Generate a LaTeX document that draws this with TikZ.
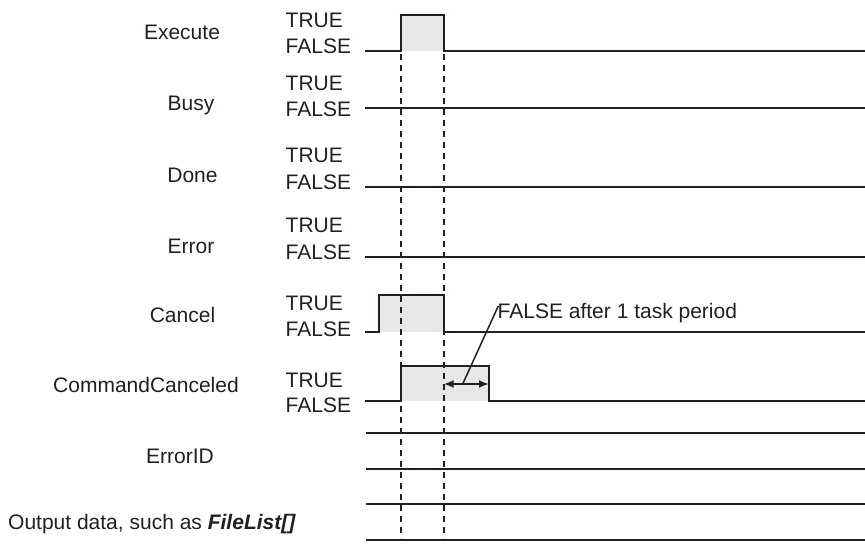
\documentclass[tikz,border=0pt]{standalone}
\usepackage{fontspec}
\setmainfont{Liberation Sans}
\usetikzlibrary{arrows.meta}
\definecolor{ink}{HTML}{231F20}
\definecolor{pulse}{HTML}{E6E7E8}
\begin{document}
\begin{tikzpicture}[x=1pt,y=-1pt,
  font=\fontsize{21}{24}\selectfont,
  sig/.style={draw=ink, line width=1.9pt},
  lbl/.style={anchor=base, inner sep=0pt, text=ink},
  lvl/.style={anchor=base west, inner sep=0pt, text=ink},
  guide/.style={draw=ink, line width=1.9pt, dash pattern=on 6pt off 5pt},
  tip/.style={Latex[length=10pt,width=8pt]}]
\useasboundingbox (0,0) rectangle (865,545);
% pulse fills
\fill[pulse] (400.7,14.7) rectangle (443.7,51);
\fill[pulse] (379,295) rectangle (443.7,331.7);
\fill[pulse] (400.7,365.7) rectangle (489,401);
% waveforms
\draw[sig] (365,51) -- (400.7,51) -- (400.7,14.7) -- (443.7,14.7) -- (443.7,51) -- (865,51);
\draw[sig] (365,108.3) -- (865,108.3);
\draw[sig] (365,187) -- (865,187);
\draw[sig] (365,256.7) -- (865,256.7);
\draw[sig] (365,331.7) -- (379,331.7) -- (379,295) -- (443.7,295) -- (443.7,331.7) -- (865,331.7);
\draw[sig] (365,401) -- (400.7,401) -- (400.7,365.7) -- (489,365.7) -- (489,401) -- (865,401);
\draw[sig] (366,432.7) -- (865,432.7);
\draw[sig] (366,468.7) -- (865,468.7);
\draw[sig] (366,504) -- (865,504);
\draw[sig] (366,540) -- (865,540);
% guides
\draw[guide] (400.7,54) -- (400.7,538);
\draw[guide] (443.7,54) -- (443.7,538);
% signal names
\node[lbl] (exe) at (182,40) {Execute};
\node[lbl] (busy) at (191,111) {Busy};
\node[lbl] (done) at (192.5,182.7) {Done};
\node[lbl] (err) at (191,253.3) {Error};
\node[lbl] (can) at (182.5,322.7) {Cancel};
\node[lbl] (cc) at (146,392.7) {CommandCanceled};
\node[lbl] (eid) at (180,463.3) {ErrorID};
\node[lvl] (out) at (8,529) {Output data, such as \textbf{\textit{FileList[]}}};
% levels
\node[lvl] (exeT) at (285.5,27.3) {TRUE};
\node[lvl] (exeF) at (285.5,53.3) {FALSE};
\node[lvl] (busyT) at (285.5,90.7) {TRUE};
\node[lvl] (busyF) at (285.5,116.7) {FALSE};
\node[lvl] (doneT) at (285.5,162.7) {TRUE};
\node[lvl] (doneF) at (285.5,189.3) {FALSE};
\node[lvl] (errT) at (285.5,232.7) {TRUE};
\node[lvl] (errF) at (285.5,259.3) {FALSE};
\node[lvl] (canT) at (285.5,311) {TRUE};
\node[lvl] (canF) at (285.5,336.7) {FALSE};
\node[lvl] (ccT) at (285.5,387.3) {TRUE};
\node[lvl] (ccF) at (285.5,412.7) {FALSE};
% annotation
\node[lvl] (note) at (497.5,319) {FALSE after 1 task period};
\coordinate (a1) at (443.7,384);
\coordinate (a2) at (489,384);
\coordinate (ah) at (462.7,384);
\coordinate (lt) at (498.3,306);
\draw[sig, {Latex[length=10pt,width=8pt]}-{Latex[length=10pt,width=8pt]}] (a1) -- (a2);
\draw[draw=ink, line width=1.5pt] (ah) -- (lt);
\end{tikzpicture}
\end{document}
